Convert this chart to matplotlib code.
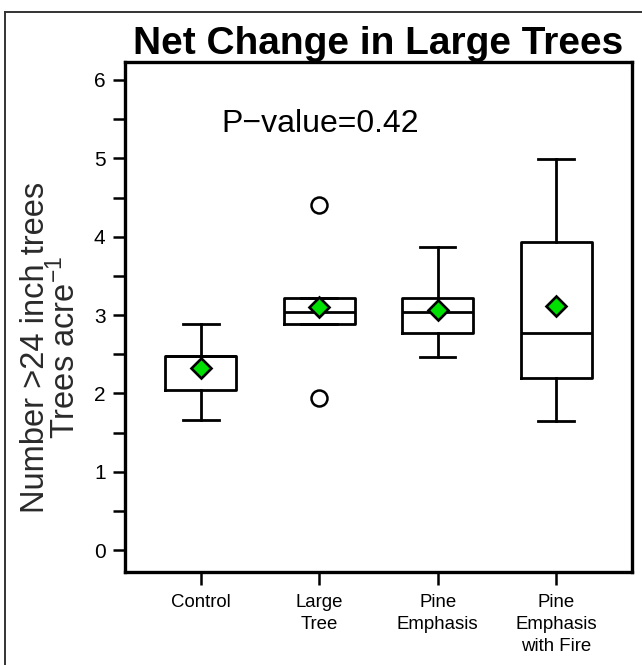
import matplotlib
matplotlib.use("Agg")
import matplotlib.pyplot as plt
from matplotlib.lines import Line2D
from matplotlib.ticker import MultipleLocator

plt.rcParams['font.family'] = ['Liberation Sans', 'DejaVu Sans']
plt.rcParams['mathtext.fontset'] = 'custom'
plt.rcParams['mathtext.rm'] = 'Liberation Sans'
plt.rcParams['mathtext.it'] = 'Liberation Sans'

# Box summaries for each treatment (trees per acre)
treatments = ["Control", "Large\nTree", "Pine\nEmphasis", "Pine\nEmphasis\nwith Fire"]
whisker_low = [1.66, 2.88, 2.46, 1.65]
quart_low = [2.04, 2.88, 2.77, 2.20]
medians = [2.48, 3.04, 3.04, 2.77]
quart_high = [2.48, 3.22, 3.22, 3.93]
whisker_high = [2.89, 3.22, 3.87, 4.99]
means = [2.32, 3.10, 3.07, 3.12]
outliers = [[], [4.40, 1.94], [], []]
p_value = 0.42

stats = []
for i, name in enumerate(treatments):
    stats.append(dict(label=name, whislo=whisker_low[i], q1=quart_low[i],
                      med=medians[i], q3=quart_high[i], whishi=whisker_high[i],
                      mean=means[i], fliers=outliers[i]))

fig = plt.figure(figsize=(6.42, 6.65), dpi=100)
ax = fig.add_axes([0.1947, 0.1398, 0.7897, 0.767])

lw = 2.0
ax.bxp(stats, positions=[1, 2, 3, 4], widths=0.6, capwidths=0.3,
       showmeans=True, showfliers=True,
       boxprops=dict(color='black', linewidth=lw),
       medianprops=dict(color='black', linewidth=lw),
       whiskerprops=dict(color='black', linewidth=lw),
       capprops=dict(color='black', linewidth=lw),
       meanprops=dict(marker='D', markerfacecolor='#00e000', markeredgecolor='black',
                      markeredgewidth=1.9, markersize=10.5),
       flierprops=dict(marker='o', markerfacecolor='white', markeredgecolor='black',
                       markeredgewidth=1.8, markersize=11.5))

ax.set_xlim(0.36, 4.64)
ax.set_ylim(-0.28, 6.23)
ax.yaxis.set_major_locator(MultipleLocator(1))
ax.yaxis.set_minor_locator(MultipleLocator(0.5))
ax.tick_params(axis='y', which='both', length=9, width=1.8, labelsize=15, pad=5)
ax.tick_params(axis='x', length=9, width=1.8, labelsize=13.4, pad=7)
for lab in ax.get_xticklabels():
    lab.set_linespacing(1.36)
for sp in ax.spines.values():
    sp.set_linewidth(2.4)

ax.set_ylabel("Number >24 inch trees\nTrees acre$^{-1}$", fontsize=23.5,
              linespacing=0.88, color='#2a2a2a')
ax.yaxis.set_label_coords(-0.085, 0.44)
ax.set_title("Net Change in Large Trees", fontsize=28, fontweight='bold', pad=5)
ax.text(1.17, 5.34, "P\u2212value=" + str(p_value), fontsize=23, va='baseline')

# thin frame around the panel
fig.add_artist(Line2D([5 / 642, 1], [1 - 12 / 665, 1 - 12 / 665],
                      transform=fig.transFigure, color='#333333', linewidth=1.4))
fig.add_artist(Line2D([5 / 642, 5 / 642], [0, 1 - 12 / 665],
                      transform=fig.transFigure, color='#333333', linewidth=1.4))

fig.savefig("out.png", dpi=100)
